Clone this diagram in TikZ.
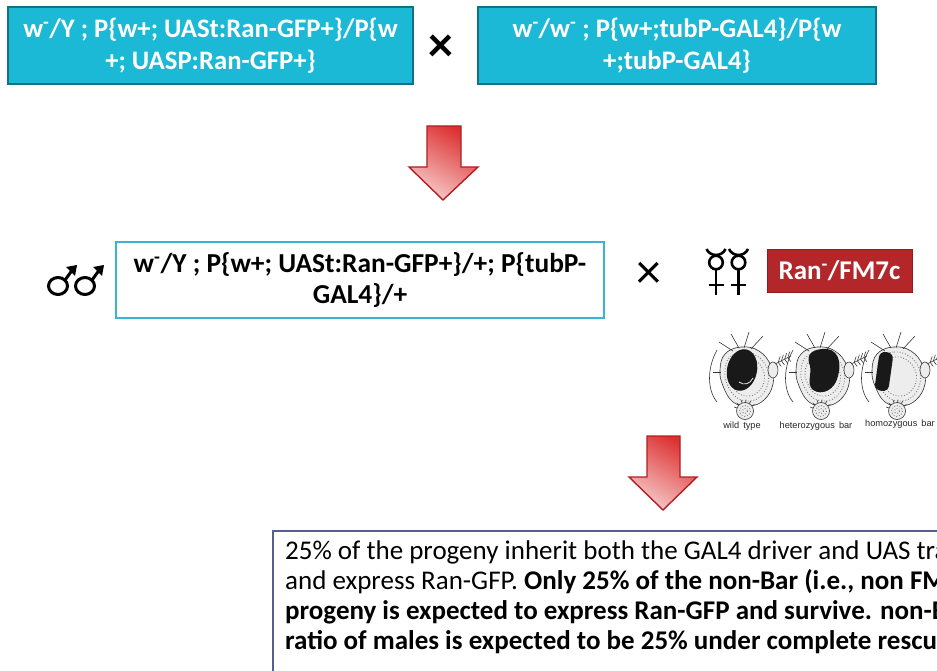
\documentclass[tikz,border=0pt]{standalone}
\usepackage{fontspec}
\setmainfont{Carlito}
\newfontfamily\labelfont{Liberation Sans}
\usetikzlibrary{calc}
\definecolor{cyanfill}{HTML}{1BB9D6}
\definecolor{cyanedge}{HTML}{15707F}
\definecolor{lightedge}{HTML}{3AB3D0}
\definecolor{ranred}{HTML}{B3272A}
\definecolor{ranedge}{HTML}{8C1C1E}
\definecolor{arrowdark}{HTML}{DC3030}
\definecolor{arrowlight}{HTML}{F7CACA}
\definecolor{arrowedge}{HTML}{B21E22}
\definecolor{noteedge}{HTML}{56608E}
\tikzset{
  parentbox/.style={draw=cyanedge, fill=cyanfill, line width=1.6pt, minimum width=405pt,
    minimum height=77pt, text=white, font=\fontsize{26.7}{32}\selectfont\bfseries, align=center, inner sep=0pt},
  crossbox/.style={draw=lightedge, fill=white, line width=1.8pt, minimum width=488pt,
    minimum height=76pt, font=\fontsize{27.4}{31}\selectfont\bfseries, align=center, inner sep=0pt},
  redbox/.style={draw=ranedge, fill=ranred, line width=0.8pt, minimum width=145pt,
    minimum height=43pt, text=white, font=\fontsize{27}{30}\selectfont\bfseries, inner sep=0pt},
  timessign/.style={font=\fontsize{50}{50}\selectfont, inner sep=0pt},
  sexsym/.style={line width=3pt, line cap=round},
  headline/.style={line width=0.6pt, black!80},
  stipple/.style={line width=0.9pt, black!55, dash pattern=on 0.8pt off 2pt},
  eyefill/.style={fill=black!90, draw=black},
  headlabel/.style={font=\labelfont\fontsize{9.2}{10}\selectfont, inner sep=0pt, text=black!85},
  notetext/.style={font=\fontsize{27}{29.7}\selectfont, align=left, inner sep=0pt, anchor=north west},
  bigarrow/.style={draw=arrowedge, line width=1.4pt, line join=miter, shading=axis,
    top color=arrowdark, bottom color=arrowlight, shading angle=-30},
  flyhead/.pic={
    % stippled head capsule
    \draw[headline, fill=black!7] plot[smooth cycle, tension=0.7] coordinates
      {(-22,-22) (-6,-29) (12,-25) (24,-10) (26,8) (17,24) (2,30) (-14,26) (-24,10) (-27,-6)};
    \draw[stipple] plot[smooth cycle, tension=0.7] coordinates
      {(-18,-18) (-5,-24) (10,-20) (20,-8) (21,7) (14,20) (2,25) (-11,21) (-20,8) (-22,-5)};
    \draw[stipple] plot[smooth cycle, tension=0.7] coordinates
      {(-14,-14) (-4,-19) (8,-16) (16,-6) (17,6) (11,16) (2,20) (-9,17) (-16,6) (-18,-4)};
    % mouthparts
    \draw[headline, fill=black!7] (-2,35) circle (8.5);
    \draw[stipple] (-2,35) circle (5.5);
    \draw[stipple] (-2,35) circle (2.5);
    \foreach \a in {200,225,...,340} \draw[headline] (-2,35) ++(\a:8.5) -- ++(\a:3);
    % frons outline on the left
    \draw[headline] (-30,-26) .. controls (-40,-8) and (-40,14) .. (-30,26);
    \draw[headline] (-34,-4) -- (-26,-4);
    % bristles on top
    \draw[headline] (-8,-28) -- (-16,-42);
    \draw[headline] (-3,-28) -- (2,-44);
    \draw[headline] (4,-27) -- (16,-40);
    \draw[headline] (-14,-25) -- (-28,-34);
    % antenna with arista
    \draw[headline, fill=black!7] (26,-6) ellipse (5 and 8);
    \draw[headline] (28,-12) -- (44,-20);
    \foreach \t in {0.2,0.4,0.6,0.8} {
      \draw[headline] ($(28,-12)!\t!(44,-20)$) -- ++(2,-6);
      \draw[headline] ($(28,-12)!\t!(44,-20)$) -- ++(3,4);
    }
  }
}
\begin{document}
\begin{tikzpicture}[x=1pt, y=-1pt]
\useasboundingbox (0,0) rectangle (937,671);
\clip (0,0) rectangle (937,671);

% parental cross
\node[parentbox] (pmale) at (210.5,45.5)
  {w\textsuperscript{-}/Y ; P\{w+; UASt:Ran-GFP+\}/P\{w\\+; UASP:Ran-GFP+\}};
\node[timessign, font=\fontsize{50}{50}\selectfont\bfseries] (x1) at (441,48) {×};
\node[parentbox, minimum width=398pt] (pfemale) at (677,45.5)
  {w\textsuperscript{-}/w\textsuperscript{-} ; P\{w+;tubP-GAL4\}/P\{w\\+;tubP-GAL4\}};

% first arrow
\shade[bigarrow] (427,126) -- (461,126) -- (461,167) -- (478,167) -- (443,200)
  -- (409,167) -- (427,167) -- cycle;

% F1 cross
\node[crossbox] (f1male) at (360,280)
  {w\textsuperscript{-}/Y ; P\{w+; UASt:Ran-GFP+\}/+; P\{tubP-\\GAL4\}/+};
\node[timessign] (x2) at (649,275) {×};
\node[redbox] (ranfm) at (839.5,270.5) {Ran\textsuperscript{-}/FM7c};

% male symbols
\foreach \cx in {58,85} {
  \draw[sexsym] (\cx,286) ellipse (9.5 and 8.5);
  \draw[sexsym] (\cx,286) ++(-40:9) -- (\cx+15,269);
  \fill (\cx+19,265) -- (\cx+8,267) -- (\cx+17,276) -- cycle;
}

% female symbols
\foreach \cx in {716,738.5} {
  \draw[line width=2.6pt] (\cx,262.5) circle (6.8);
  \draw[line width=2.6pt] (\cx-9.5,249) .. controls (\cx-6,257) and (\cx+6,257) .. (\cx+9.5,249);
  \draw[line width=2.6pt] (\cx,269.5) -- (\cx,295);
  \draw[line width=2.6pt] (\cx-7.5,285) -- (\cx+7.5,285);
}

% eye phenotypes
\pic at (747,376) {flyhead};
\pic at (823,376) {flyhead};
\pic at (899,376) {flyhead};
\begin{scope}[eyefill]
  \fill[rotate around={-12:(742,370)}] (742,370) ellipse (15 and 21);
  \draw[white, line width=0.7pt] (739,382) .. controls (744,386) and (750,384) .. (753,378);
  \fill (822,349) .. controls (838,347) and (842,362) .. (838,376)
    .. controls (835,390) and (822,396) .. (813,390)
    .. controls (806,384) and (812,374) .. (810,366)
    .. controls (806,356) and (810,350) .. (822,349) -- cycle;
  \fill[rounded corners=6pt, rotate around={-8:(884,371)}] (877,352) rectangle (891,391);
\end{scope}
\node[headlabel] (wt) at (742,426) {wild\, type};
\node[headlabel] (het) at (816,426) {heterozygous\, bar};
\node[headlabel] (hom) at (900,424) {homozygous\, bar};

% second arrow
\shade[bigarrow] (647,436) -- (680,436) -- (680,477) -- (697,477) -- (663,510)
  -- (629,477) -- (647,477) -- cycle;

% expected progeny
\draw[noteedge, line width=1.6pt, fill=white] (273,531) rectangle (990,700);
\node[notetext] (note) at (285,541) {25\% of the progeny inherit both the GAL4 driver and UAS transgenes\\
and express Ran-GFP. \textbf{Only 25\% of the non-Bar (i.e., non FM7c)}\\
\textbf{progeny is expected to express Ran-GFP and survive. non-Bar}\\
\textbf{ratio of males is expected to be 25\% under complete rescue.}};
\end{tikzpicture}
\end{document}
